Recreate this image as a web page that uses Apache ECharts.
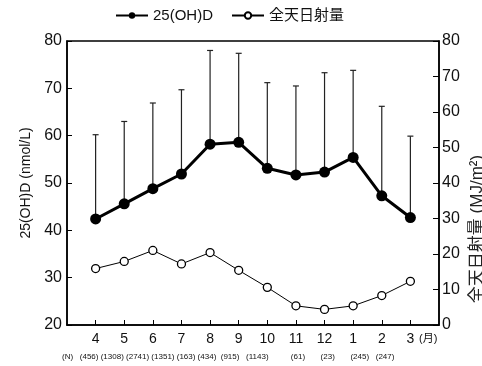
<!DOCTYPE html>
<html><head><meta charset="utf-8">
<script src="https://cdn.jsdelivr.net/npm/echarts@6/dist/echarts.min.js"></script>
<style>html,body{margin:0;padding:0;background:#fff}#c{width:482px;height:366px}</style>
</head><body><div id="c"></div>
<script>
const months = ['4','5','6','7','8','9','10','11','12','1','2','3'];
const ohdMean = [42.4, 45.6, 48.8, 51.9, 58.2, 58.6, 53.1, 51.7, 52.3, 55.4, 47.3, 42.7];
const ohdUpper = [60.2, 63.0, 66.9, 69.7, 78.0, 77.4, 71.2, 70.5, 73.3, 73.8, 66.2, 59.9];
const radiation = [15.9, 17.9, 21.0, 17.2, 20.4, 15.4, 10.6, 5.4, 4.4, 5.4, 8.3, 12.3];
const nCounts = ['456','1308','2741','1351','163','434','915','1143','61','23','245','247'];
const nSpaces = [1, 1, 1, 1, 1, 2, 3, 10, 7, 7, 3, 0];

const FONT = "'Liberation Sans', Arial, 'Noto Sans CJK JP', sans-serif";
const categories = [' '].concat(months, ['  ']);
const pad = arr => [null].concat(arr, [null]);
const nText = '(N)   ' + nCounts.map((n, i) => '(' + n + ')' + ' '.repeat(nSpaces[i])).join('');

const chart = echarts.init(document.getElementById('c'), null, {renderer: 'canvas'});
chart.setOption({
  animation: false,
  textStyle: {fontFamily: FONT, color: '#111'},
  grid: {left: 67, right: 43, top: 41, bottom: 41, show: true, borderColor: '#000', borderWidth: 1.5, backgroundColor: 'transparent'},
  legend: {
    top: 8, left: 115, padding: 0, itemWidth: 32, itemHeight: 8, itemGap: 18,
    textStyle: {fontSize: 15, color: '#111', fontFamily: FONT},
    data: ['25(OH)D', '全天日射量']
  },
  xAxis: {
    type: 'category', data: categories, boundaryGap: false,
    axisLine: {lineStyle: {color: '#000', width: 1.5}},
    axisTick: {inside: true, length: 5, lineStyle: {color: '#000', width: 1}, interval: (i) => i > 0 && i < categories.length - 1},
    axisLabel: {interval: 0, fontSize: 14, color: '#111', margin: 7, fontFamily: FONT},
    splitLine: {show: false}
  },
  yAxis: [{
    type: 'value', min: 20, max: 80, interval: 10,
    name: '25(OH)D (nmol/L)', nameLocation: 'middle', nameGap: 34,
    nameTextStyle: {fontSize: 14, color: '#111', fontFamily: FONT},
    axisLine: {show: true, lineStyle: {color: '#000', width: 1.5}},
    axisTick: {show: true, inside: true, length: 5, lineStyle: {color: '#000'}},
    axisLabel: {fontSize: 16, color: '#111', margin: 5, fontFamily: FONT},
    splitLine: {show: false}
  }, {
    type: 'value', min: 0, max: 80, interval: 10, position: 'right',
    axisLine: {show: true, lineStyle: {color: '#000', width: 1.5}},
    axisTick: {show: true, inside: true, length: 6, lineStyle: {color: '#000'}},
    axisLabel: {fontSize: 16, color: '#111', margin: 3, fontFamily: FONT},
    splitLine: {show: false}
  }],
  graphic: [
    {type: 'text', left: 62, top: 353, style: {text: nText, fontSize: 8, fill: '#111', fontFamily: FONT}},
    {type: 'text', left: 419, top: 333, style: {text: '(月)', fontSize: 11, fill: '#111', fontFamily: FONT}},
    {type: 'text', x: 477, y: 229, rotation: Math.PI / 2,
     style: {text: '全天日射量 (MJ/m²)', fontSize: 17, fill: '#222', fontFamily: FONT, align: 'center', verticalAlign: 'middle'}}
  ],
  series: [{
    type: 'custom', name: 'err', yAxisIndex: 0, z: 1, silent: true,
    data: ohdMean.map((m, i) => [i + 1, m, ohdUpper[i]]),
    renderItem: function (params, api) {
      const p0 = api.coord([api.value(0), api.value(1)]);
      const p1 = api.coord([api.value(0), api.value(2)]);
      const st = {stroke: '#222', lineWidth: 1.2};
      return {type: 'group', children: [
        {type: 'line', shape: {x1: p0[0], y1: p0[1], x2: p1[0], y2: p1[1]}, style: st},
        {type: 'line', shape: {x1: p1[0] - 3, y1: p1[1], x2: p1[0] + 3, y2: p1[1]}, style: st}
      ]};
    }
  }, {
    type: 'line', name: '25(OH)D', yAxisIndex: 0, z: 3,
    data: pad(ohdMean), symbol: 'circle', symbolSize: 11,
    lineStyle: {color: '#000', width: 3}, itemStyle: {color: '#000'}
  }, {
    type: 'line', name: '全天日射量', yAxisIndex: 1, z: 3,
    data: pad(radiation), symbol: 'circle', symbolSize: 8,
    lineStyle: {color: '#000', width: 1}, itemStyle: {color: '#fff', borderColor: '#000', borderWidth: 1.3}
  }]
});
</script></body></html>
